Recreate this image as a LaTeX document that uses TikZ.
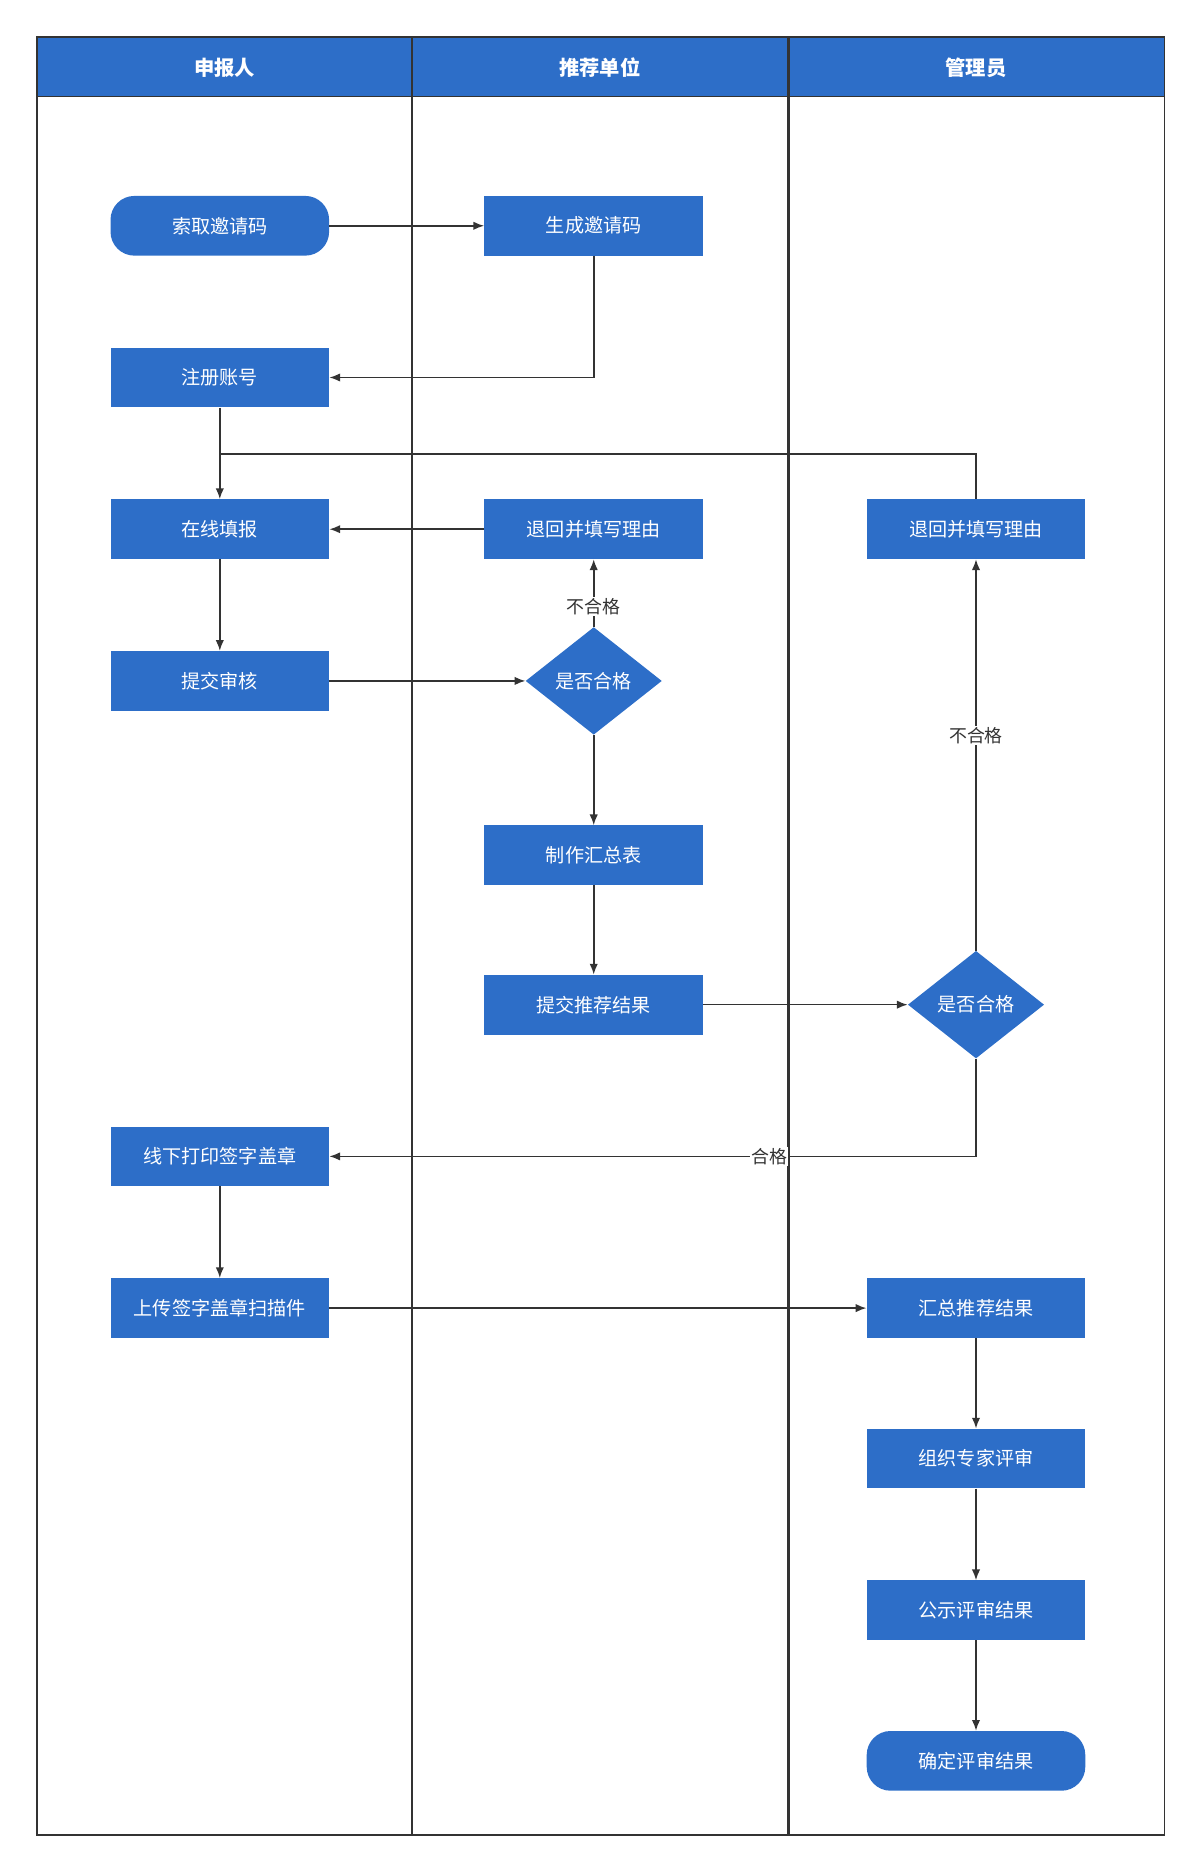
\documentclass[tikz,border=0pt]{standalone}
\usepackage{fontspec}
\setmainfont{Noto Sans CJK SC}
\usetikzlibrary{shapes.geometric,arrows.meta}
\definecolor{bl}{HTML}{2D6EC8}
\definecolor{ln}{HTML}{333333}
\begin{document}
\begin{tikzpicture}[x=1pt,y=-1pt,
 box/.style={fill=bl,draw=none,minimum width=183pt,minimum height=50pt,text=white,font=\fontsize{16}{18}\selectfont,inner sep=0pt},
 term/.style={box,rounded corners=20pt},
 dia/.style={diamond,fill=bl,draw=none,minimum width=114pt,minimum height=90pt,aspect=1.27,text=white,font=\fontsize{16}{18}\selectfont,inner sep=0pt},
 arr/.style={draw=ln,line width=1.3pt,-{Latex[length=9pt,width=7pt]}},
 lbl/.style={fill=white,inner sep=1pt,font=\fontsize{15}{17}\selectfont,text=ln},
 hd/.style={text=white,font=\fontsize{17}{19}\selectfont\bfseries}]
\useasboundingbox (0,0) rectangle (1000,1557);
\fill[bl] (31,31) rectangle (975,81);
\draw[ln,line width=1pt] (31,31) rectangle (975,1536);
\draw[ln,line width=1pt] (31,81) -- (975,81);
\draw[ln,line width=2pt] (345,31) -- (345,1536);
\draw[ln,line width=2pt] (660,31) -- (660,1536);
\node[hd] (h1) at (188,57) {申报人};
\node[hd] (h2) at (502,57) {推荐单位};
\node[hd] (h3) at (817,57) {管理员};
\node[term] (a1) at (184,189) {索取邀请码};
\node[box] (b1) at (497,189) {生成邀请码};
\node[box] (a2) at (184,316) {注册账号};
\node[box] (a3) at (184,443) {在线填报};
\node[box] (b2) at (497,443) {退回并填写理由};
\node[box] (c1) at (817,443) {退回并填写理由};
\node[box] (a4) at (184,570) {提交审核};
\node[dia] (d1) at (497,570) {是否合格};
\node[box] (b3) at (497,716) {制作汇总表};
\node[box] (b4) at (497,841) {提交推荐结果};
\node[dia] (d2) at (817,841) {是否合格};
\node[box] (a5) at (184,968) {线下打印签字盖章};
\node[box] (a6) at (184,1095) {上传签字盖章扫描件};
\node[box] (c2) at (817,1095) {汇总推荐结果};
\node[box] (c3) at (817,1221) {组织专家评审};
\node[box] (c4) at (817,1348) {公示评审结果};
\node[term] (c5) at (817,1474) {确定评审结果};
\coordinate (m) at (184,380);
\draw[arr] (a1) -- (b1);
\draw[arr] (b1.south) |- (a2.east);
\draw[arr] (a2) -- (a3);
\draw[draw=ln,line width=1.3pt] (c1.north) |- (m);
\draw[arr] (b2) -- (a3);
\draw[arr] (a3) -- (a4);
\draw[arr] (a4) -- (d1);
\draw[arr] (d1) -- node[lbl,pos=0.3]{不合格} (b2);
\draw[arr] (d1) -- (b3);
\draw[arr] (b3) -- (b4);
\draw[arr] (b4) -- (d2);
\draw[arr] (d2) -- node[lbl,pos=0.55]{不合格} (c1);
\draw[arr] (d2.south) |- node[lbl,pos=0.66]{合格} (a5.east);
\draw[arr] (a5) -- (a6);
\draw[arr] (a6) -- (c2);
\draw[arr] (c2) -- (c3);
\draw[arr] (c3) -- (c4);
\draw[arr] (c4) -- (c5);
\end{tikzpicture}
\end{document}
